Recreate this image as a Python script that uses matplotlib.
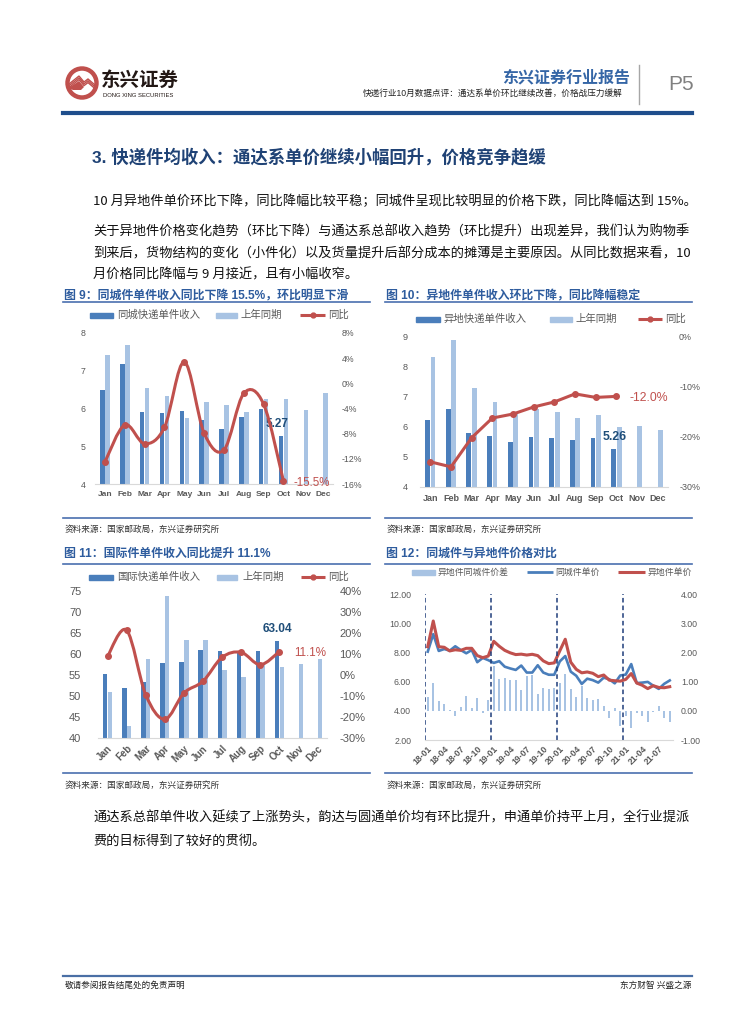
import matplotlib
matplotlib.use("Agg")
import matplotlib.pyplot as plt
import numpy as np
from matplotlib.patches import Rectangle, Circle, PathPatch
from matplotlib.lines import Line2D
from matplotlib.path import Path

plt.rcParams['font.family'] = ['Liberation Sans', 'Noto Sans CJK SC', 'DejaVu Sans']

W, H = 755, 1024

# ---------------- data ----------------
months = ['Jan', 'Feb', 'Mar', 'Apr', 'May', 'Jun', 'Jul', 'Aug', 'Sep', 'Oct', 'Nov', 'Dec']

# 图9 同城件
samecity_income = [6.48, 7.17, 5.91, 5.89, 5.94, 5.69, 5.46, 5.78, 6.00, 5.27]
samecity_last = [7.42, 7.69, 6.55, 6.34, 5.74, 6.17, 6.09, 5.91, 6.24, 6.24, 5.96, 6.41]
samecity_yoy = [-12.5, -6.6, -9.6, -7.0, 3.4, -7.9, -10.6, -1.6, -3.3, -15.5]

# 图10 异地件
intercity_income = [6.21, 6.57, 5.80, 5.70, 5.48, 5.64, 5.62, 5.55, 5.62, 5.26]
intercity_last = [8.30, 8.87, 7.29, 6.81, 6.49, 6.57, 6.47, 6.27, 6.40, 5.98, 6.01, 5.90]
intercity_yoy = [-25.0, -26.0, -20.2, -16.3, -15.5, -14.1, -13.1, -11.5, -12.2, -12.0]

# 图11 国际件
intl_income = [55.2, 51.9, 53.4, 57.8, 58.0, 61.0, 60.8, 60.3, 60.6, 63.04]
intl_last = [51.0, 42.9, 58.9, 73.7, 63.4, 63.3, 56.3, 54.6, 57.8, 56.9, 57.6, 58.7]
intl_yoy = [8.9, 21.3, -9.4, -21.1, -8.6, -3.0, 8.4, 10.8, 4.9, 11.1]

# 图12 同城件与异地件价格对比 (2018-01 ~ 2021-09)
price_ticks = ['18-01', '18-04', '18-07', '18-10', '19-01', '19-04', '19-07', '19-10',
               '20-01', '20-04', '20-07', '20-10', '21-01', '21-04', '21-07']
samecity_price = [8.05, 9.25, 8.10, 8.23, 8.12, 8.42, 8.16, 7.94, 8.16, 7.33, 7.62, 7.47,
                  7.28, 7.40, 7.02, 6.90, 6.80, 7.10, 6.62, 6.62, 7.12, 6.62, 6.47, 6.47,
                  7.38, 7.75, 6.68, 6.40, 5.84, 6.20, 6.10, 5.93, 6.27, 6.16, 5.88, 6.42,
                  6.48, 7.20, 5.90, 5.93, 5.98, 5.72, 5.50, 5.85, 6.08]
intercity_price = [8.39, 10.15, 8.39, 8.35, 8.10, 8.18, 8.14, 8.28, 8.28, 7.78, 7.64, 7.75,
                   8.76, 8.42, 8.14, 7.97, 7.85, 7.88, 7.82, 7.87, 7.78, 7.42, 7.23, 7.28,
                   8.10, 8.90, 7.33, 6.84, 6.60, 6.66, 6.57, 6.34, 6.45, 6.10, 6.06, 6.03,
                   6.15, 6.55, 5.90, 5.75, 5.52, 5.72, 5.60, 5.58, 5.65]
price_gap = [0.48, 0.94, 0.35, 0.25, 0.04, -0.17, 0.13, 0.50, 0.08, 0.44, -0.07, 0.38,
             1.54, 1.08, 1.13, 1.07, 1.04, 0.71, 1.20, 1.22, 0.57, 0.77, 0.75, 0.77,
             0.95, 1.25, 0.76, 0.48, 0.85, 0.44, 0.37, 0.40, 0.18, -0.23, 0.08, -0.51,
             -0.17, -0.60, -0.09, -0.18, -0.40, -0.03, 0.17, -0.24, -0.40]

DARK = '#4A7EBB'
LIGHT = '#A8C3E3'
RED = '#C0504D'
NAVY = '#1F4E79'
GREY = '#595959'
TITLE_BLUE = '#2E5C9E'
FRAME = '#4A6FAF'

fig = plt.figure(figsize=(W / 100, H / 100), dpi=100)


def fx(x):
    return x / W


def fy(y):
    return 1 - y / H


def put(x, y, s, **kw):
    kw.setdefault('va', 'center')
    return fig.text(fx(x), fy(y), s, **kw)


def hline(x0, x1, y, color, lw):
    fig.add_artist(Line2D([fx(x0), fx(x1)], [fy(y), fy(y)], color=color, lw=lw,
                          transform=fig.transFigure))


def new_ax(l, t, r, b):
    return fig.add_axes([fx(l), fy(b), (r - l) / W, (b - t) / H])


def leg_bar(x0, x1, y, color):
    fig.add_artist(Rectangle((fx(x0), fy(y + 2.5)), (x1 - x0) / W, 5 / H, color=color,
                             transform=fig.transFigure))


def leg_line(x0, x1, y, color, lw, marker=True):
    fig.add_artist(Line2D([fx(x0), fx(x1)], [fy(y), fy(y)], color=color, lw=lw,
                          transform=fig.transFigure, solid_capstyle='butt'))
    if marker:
        fig.add_artist(Line2D([fx((x0 + x1) / 2)], [fy(y)], marker='o', ms=3.5, color=color,
                              transform=fig.transFigure))


def smooth_path(xs, ys):
    # Excel 风格的平滑线 (Catmull-Rom -> Bezier)
    pts = np.column_stack([xs, ys]).astype(float)
    n = len(pts)
    verts = [pts[0]]
    codes = [Path.MOVETO]
    for i in range(n - 1):
        p0 = pts[i - 1] if i > 0 else pts[i]
        p1, p2 = pts[i], pts[i + 1]
        p3 = pts[i + 2] if i + 2 < n else pts[i + 1]
        verts += [p1 + (p2 - p0) / 6, p2 - (p3 - p1) / 6, p2]
        codes += [Path.CURVE4] * 3
    return Path(verts, codes)


def style(ax, axr):
    for a in (ax, axr):
        for s in a.spines.values():
            s.set_visible(False)
        a.tick_params(length=0, colors=GREY)
    ax.spines['bottom'].set_visible(True)
    ax.spines['bottom'].set_color('#D9D9D9')
    ax.spines['bottom'].set_linewidth(0.8)


# ---------------- header ----------------
ax_logo = new_ax(62, 63, 102, 103)
ax_logo.set_xlim(-20, 20)
ax_logo.set_ylim(-20, 20)
ax_logo.set_aspect('equal')
ax_logo.axis('off')
ax_logo.add_patch(Circle((0, 0), 14.5, fc='white', ec=RED, lw=3.2))
for off in (0, 1.8, 3.6):
    ax_logo.plot([-13, -3, 2, 6, 13], [-1 - off, 7 - off, 1 - off, 4 - off, -2 - off],
                 color=RED, lw=1.0, solid_joinstyle='miter')
ax_logo.fill([-13.5, -3, 2, -1, -9], [-5, 2, -4, -7, -7], color=RED, lw=0)

put(101, 81, '东兴证券', fontsize=14, fontweight='bold', color='#231815', ha='left')
put(103, 95.5, 'DONG XING SECURITIES', fontsize=4.2, color='#231815', ha='left')

put(630, 78, '东兴证券行业报告', fontsize=11.5, fontweight='bold', color='#3566A6', ha='right')
put(622, 93.5, '快递行业10月数据点评：通达系单价环比继续改善，价格战压力缓解',
    fontsize=6.2, color='#222222', ha='right')
fig.add_artist(Line2D([fx(639), fx(639)], [fy(65), fy(104)], color='#A6A6A6', lw=1,
                      transform=fig.transFigure))
put(681, 84, 'P5', fontsize=15, color='#808080', ha='center')
hline(63, 692, 112.5, '#1F4E8C', 3)

# ---------------- section text ----------------
put(92, 157, '3. 快递件均收入：通达系单价继续小幅回升，价格竞争趋缓', fontsize=12.5,
    fontweight='bold', color='#1F4275', ha='left')

body = dict(fontsize=9.5, color='#111111', ha='left', family=['Noto Sans CJK SC', 'DejaVu Sans'])
put(93, 201, '10 月异地件单价环比下降，同比降幅比较平稳；同城件呈现比较明显的价格下跌，同比降幅达到 15%。', **body)
put(93, 232, '关于异地件价格变化趋势（环比下降）与通达系总部收入趋势（环比提升）出现差异，我们认为购物季', **body)
put(93, 254, '到来后，货物结构的变化（小件化）以及货量提升后部分成本的摊薄是主要原因。从同比数据来看，10', **body)
put(93, 275, '月价格同比降幅与 9 月接近，且有小幅收窄。', **body)

put(93, 818, '通达系总部单件收入延续了上涨势头，韵达与圆通单价均有环比提升，申通单价持平上月，全行业提派', **body)
put(93, 841, '费的目标得到了较好的贯彻。', **body)

# ---------------- chart frames ----------------
title_kw = dict(fontsize=8.6, fontweight='bold', color=TITLE_BLUE, ha='left')
src_kw = dict(fontsize=6.2, color='#333333', ha='left', style='italic')

put(64, 295, '图 9：同城件单件收入同比下降 15.5%，环比明显下滑', **title_kw)
put(386, 295, '图 10：异地件单件收入环比下降，同比降幅稳定', **title_kw)
hline(63, 370, 302, FRAME, 1.2)
hline(385, 692, 302, FRAME, 1.2)
hline(63, 370, 518, FRAME, 1.2)
hline(385, 692, 518, FRAME, 1.2)
put(65, 529, '资料来源：国家邮政局，东兴证券研究所', **src_kw)
put(387, 529, '资料来源：国家邮政局，东兴证券研究所', **src_kw)

put(64, 554, '图 11：国际件单件收入同比提升 11.1%', **title_kw)
put(386, 554, '图 12：同城件与异地件价格对比', **title_kw)
hline(63, 370, 564, FRAME, 1.2)
hline(385, 692, 564, FRAME, 1.2)
hline(63, 370, 773, FRAME, 1.2)
hline(385, 692, 773, FRAME, 1.2)
put(65, 785, '资料来源：国家邮政局，东兴证券研究所', **src_kw)
put(387, 785, '资料来源：国家邮政局，东兴证券研究所', **src_kw)

leg_kw = dict(fontsize=7.5, color=GREY, ha='left')

x = np.arange(12)
xd = np.arange(10)

# ---------------- 图9 ----------------
leg_bar(90, 113, 315, DARK)
put(117, 315, '同城快递单件收入', **leg_kw)
leg_bar(216, 237, 315, LIGHT)
put(240, 315, '上年同期', **leg_kw)
leg_line(300, 325, 315, RED, 2.2)
put(328, 315, '同比', **leg_kw)

ax9 = new_ax(95, 333, 333, 484)
ax9.bar(xd - 0.12, samecity_income, width=0.23, color=DARK)
ax9.bar(x + 0.13, samecity_last, width=0.23, color=LIGHT)
ax9.set_xlim(-0.5, 11.5)
ax9.set_ylim(4, 8)
ax9.set_yticks([4, 5, 6, 7, 8])
ax9.set_xticks(x)
ax9.set_xticklabels(months, fontsize=6, fontweight='bold')
ax9r = ax9.twinx()
ax9r.set_ylim(-16, 8)
ax9r.set_yticks(range(-16, 9, 4))
ax9r.set_yticklabels([f'{v}%' for v in range(-16, 9, 4)])
style(ax9, ax9r)
ax9.tick_params(axis='y', labelsize=6.3, pad=7)
ax9.tick_params(axis='x', pad=5)
ax9r.tick_params(axis='y', labelsize=6.3, pad=6)
ax9r.add_patch(PathPatch(smooth_path(xd, samecity_yoy), fill=False, ec=RED, lw=2.2))
ax9r.plot(xd, samecity_yoy, 'o', color=RED, ms=4)
ax9.text(8.7, 5.6, '5.27', ha='center', va='center', fontsize=8.5, fontweight='bold', color=NAVY)
ax9r.text(10.45, -15.8, '-15.5%', ha='center', va='center', fontsize=8.3, color=RED)

# ---------------- 图10 ----------------
leg_bar(416, 440, 319, DARK)
put(443, 319, '异地快递单件收入', **leg_kw)
leg_bar(550, 572, 319, LIGHT)
put(575, 319, '上年同期', **leg_kw)
leg_line(638, 662, 319, RED, 2.2)
put(665, 319, '同比', **leg_kw)

ax10 = new_ax(420, 336, 668, 487)
ax10.bar(xd - 0.13, intercity_income, width=0.24, color=DARK)
ax10.bar(x + 0.13, intercity_last, width=0.24, color=LIGHT)
ax10.set_xlim(-0.5, 11.5)
ax10.set_ylim(4, 9)
ax10.set_yticks([4, 5, 6, 7, 8, 9])
ax10.set_xticks(x)
ax10.set_xticklabels(months, fontsize=6.5, fontweight='bold')
ax10r = ax10.twinx()
ax10r.set_ylim(-30, 0)
ax10r.set_yticks([-30, -20, -10, 0])
ax10r.set_yticklabels(['-30%', '-20%', '-10%', '0%'])
style(ax10, ax10r)
ax10.tick_params(axis='y', labelsize=6.6, pad=9)
ax10.tick_params(axis='x', pad=5)
ax10r.tick_params(axis='y', labelsize=6.4, pad=8)
ax10r.plot(xd, intercity_yoy, '-o', color=RED, lw=2.2, ms=4)
ax10.text(8.9, 5.66, '5.26', ha='center', va='center', fontsize=8.8, fontweight='bold', color=NAVY)
ax10r.text(10.55, -12.3, '-12.0%', ha='center', va='center', fontsize=8.8, color=RED)

# ---------------- 图11 ----------------
leg_bar(89, 113, 577, DARK)
put(117, 577, '国际快递单件收入', **leg_kw)
leg_bar(217, 237, 577, LIGHT)
put(242, 577, '上年同期', **leg_kw)
leg_line(301, 325, 577, RED, 2.2)
put(328, 577, '同比', **leg_kw)

ax11 = new_ax(98, 591, 327, 738)
ax11.bar(xd - 0.12, intl_income, width=0.23, color=DARK)
ax11.bar(x + 0.13, intl_last, width=0.23, color=LIGHT)
ax11.set_xlim(-0.5, 11.5)
ax11.set_ylim(40, 75)
ax11.set_yticks(range(40, 76, 5))
ax11.set_xticks(x)
ax11.set_xticklabels(months, fontsize=7, fontweight='bold', rotation=45, ha='right',
                     rotation_mode='anchor')
ax11r = ax11.twinx()
ax11r.set_ylim(-30, 40)
ax11r.set_yticks(range(-30, 41, 10))
ax11r.set_yticklabels([f'{v}%' for v in range(-30, 41, 10)])
style(ax11, ax11r)
ax11.tick_params(axis='y', labelsize=8, pad=12)
ax11.tick_params(axis='x', pad=4)
ax11r.tick_params(axis='y', labelsize=8, pad=9)
ax11r.add_patch(PathPatch(smooth_path(xd, intl_yoy), fill=False, ec=RED, lw=2.2))
ax11r.plot(xd, intl_yoy, 'o', color=RED, ms=4)
ax11.text(8.9, 65.9, '63.04', ha='center', va='center', fontsize=8.6, fontweight='bold', color=NAVY)
ax11r.text(10.6, 10.5, '11.1%', ha='center', va='center', fontsize=8.4, color=RED)

# ---------------- 图12 ----------------
leg12_kw = dict(fontsize=6.4, color=GREY, ha='left')
leg_bar(412, 435, 572, LIGHT)
put(437, 572, '异地件同城件价差', **leg12_kw)
leg_line(527, 553, 572, DARK, 2.0, marker=False)
put(555, 572, '同城件单价', **leg12_kw)
leg_line(618, 645, 572, RED, 2.2, marker=False)
put(647, 572, '异地件单价', **leg12_kw)

xm = np.arange(len(samecity_price))
ax12 = new_ax(425, 594, 672.5, 740)
ax12r = ax12.twinx()
ax12r.bar(xm, price_gap, width=0.38, color=LIGHT)
ax12r.set_ylim(-1, 4)
ax12r.set_yticks(range(-1, 5))
ax12r.set_yticklabels([f'{v:.2f}' for v in range(-1, 5)])
ax12.plot(xm, samecity_price, color=DARK, lw=1.9)
ax12.plot(xm, intercity_price, color=RED, lw=2.2)
for xv in (-0.5, 11.5, 23.5, 35.5):
    ax12.axvline(xv, color='#1F3D7A', lw=1.1, ls=(0, (3, 2)))
ax12.set_xlim(-0.5, len(xm) - 0.5)
ax12.set_ylim(2, 12)
ax12.set_yticks(range(2, 13, 2))
ax12.set_yticklabels([f'{v:.2f}' for v in range(2, 13, 2)])
ax12.set_xticks(np.arange(0, len(xm), 3))
ax12.set_xticklabels(price_ticks, fontsize=6.2, fontweight='bold', rotation=45, ha='right',
                     rotation_mode='anchor')
ax12.set_zorder(ax12r.get_zorder() + 1)
ax12.patch.set_visible(False)
style(ax12, ax12r)
ax12.tick_params(axis='y', labelsize=6.3, pad=10)
ax12.tick_params(axis='x', pad=3)
ax12r.tick_params(axis='y', labelsize=6.3, pad=6)

# ---------------- footer ----------------
hline(63, 692, 975.5, '#4A6FA5', 1.6)
put(65, 985, '敬请参阅报告结尾处的免责声明', fontsize=6.2, color='#222222', ha='left')
put(691, 985, '东方财智 兴盛之源', fontsize=6.2, color='#222222', ha='right')

fig.savefig('out.png', dpi=100)
